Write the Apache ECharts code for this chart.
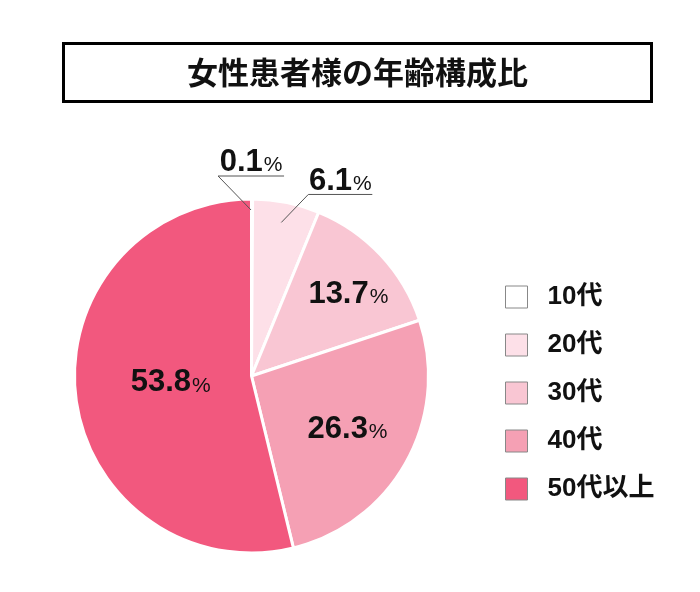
<!DOCTYPE html>
<html>
<head>
<meta charset="utf-8">
<script src="https://cdn.jsdelivr.net/npm/echarts@6/dist/echarts.min.js"></script>
<style>
  html, body { margin: 0; padding: 0; background: #fff; }
  #chart { width: 700px; height: 592px; }
</style>
</head>
<body>
<div id="chart"></div>
<script>
// age groups and their share (%)
const categories = ['10代', '20代', '30代', '40代', '50代以上'];
const shares = [0.1, 6.1, 13.7, 26.3, 53.8];
const colors = ['#ffffff', '#fde0e8', '#f9c6d3', '#f5a0b4', '#f2587e'];
const titleText = '女性患者様の年齢構成比';

// small slices get an outside label with a leader line
const OUTSIDE = 2;

// nudges for the inside labels, by slice index
const insideShift = {
  2: [30, -19],
  3: [16, 9],
  4: [10, -4]
};

const CENTER = [251.5, 376];
const RADIUS = 177;

const chart = echarts.init(document.getElementById('chart'));

const labelRich = {
  v: {
    fontFamily: '"Liberation Sans"',
    fontSize: 31,
    fontWeight: 'bold',
    color: '#111'
  },
  p: {
    fontFamily: '"Liberation Sans"',
    fontSize: 21,
    color: '#111',
    padding: [6, 0, 0, 1]
  }
};

// main pie: slices and inside labels
const pieData = categories.map((name, i) => ({
  name: name,
  value: shares[i],
  itemStyle: { color: colors[i] },
  label: { show: i >= OUTSIDE }
}));

// overlay pie (transparent): outside labels drawn above the slices
const overlayData = categories.map((name, i) => ({
  name: name,
  value: shares[i],
  label: { show: i < OUTSIDE },
  labelLine: { show: i < OUTSIDE }
}));

function layoutInside(p) {
  let s = insideShift[p.dataIndex] || [0, 0];
  return { dx: s[0], dy: s[1] };
}

function layoutOutside(p) {
  let i = p.dataIndex;
  if (i >= OUTSIDE) return {};
  let a = p.labelLinePoints ? p.labelLinePoints[0] : [p.rect.x, p.rect.y];
  let start, knee, end;
  if (i === 0) {
    start = [a[0] - 1, a[1] + 11];
    knee = [start[0] - 33, start[1] - 34];
    end = [knee[0] + 66, knee[1]];
  } else {
    start = [a[0] - 5, a[1] + 20];
    knee = [start[0] + 27, start[1] - 28];
    end = [knee[0] + 64, knee[1]];
  }
  return {
    x: (knee[0] + end[0]) / 2,
    y: knee[1] + 2,
    align: 'center',
    verticalAlign: 'bottom',
    labelLinePoints: [start, knee, end]
  };
}

chart.setOption({
  backgroundColor: '#fff',
  animation: false,
  title: {
    text: titleText,
    left: 63,
    top: 43,
    padding: [14, 124, 14, 124],
    borderColor: '#000',
    borderWidth: 3,
    textStyle: {
      fontFamily: '"Noto Sans CJK JP"',
      fontSize: 31,
      fontWeight: 'bold',
      color: '#111',
      lineHeight: 31
    }
  },
  legend: {
    orient: 'vertical',
    left: 500,
    top: 279,
    itemWidth: 22,
    itemHeight: 22,
    itemGap: 22,
    icon: 'rect',
    itemStyle: { borderColor: '#888', borderWidth: 1 },
    textStyle: {
      fontFamily: '"Liberation Sans", "Noto Sans CJK JP"',
      fontSize: 26,
      fontWeight: 'bold',
      color: '#111',
      padding: [0, 0, 0, 15]
    },
    data: categories
  },
  series: [{
    type: 'pie',
    center: CENTER,
    radius: RADIUS,
    startAngle: 90,
    clockwise: true,
    avoidLabelOverlap: false,
    itemStyle: { borderColor: '#fff', borderWidth: 3 },
    label: {
      position: 'inside',
      formatter: '{v|{c}}{p|%}',
      rich: labelRich
    },
    labelLine: { show: false },
    labelLayout: layoutInside,
    emphasis: { disabled: true },
    data: pieData
  }, {
    type: 'pie',
    z: 5,
    silent: true,
    center: CENTER,
    radius: RADIUS,
    startAngle: 90,
    clockwise: true,
    avoidLabelOverlap: false,
    itemStyle: { color: 'rgba(0,0,0,0)', borderWidth: 0 },
    label: {
      position: 'outside',
      formatter: '{v|{c}}{p|%}',
      rich: labelRich
    },
    labelLine: {
      lineStyle: { color: '#555', width: 1 }
    },
    labelLayout: layoutOutside,
    emphasis: { disabled: true },
    tooltip: { show: false },
    data: overlayData
  }]
});
</script>
</body>
</html>
